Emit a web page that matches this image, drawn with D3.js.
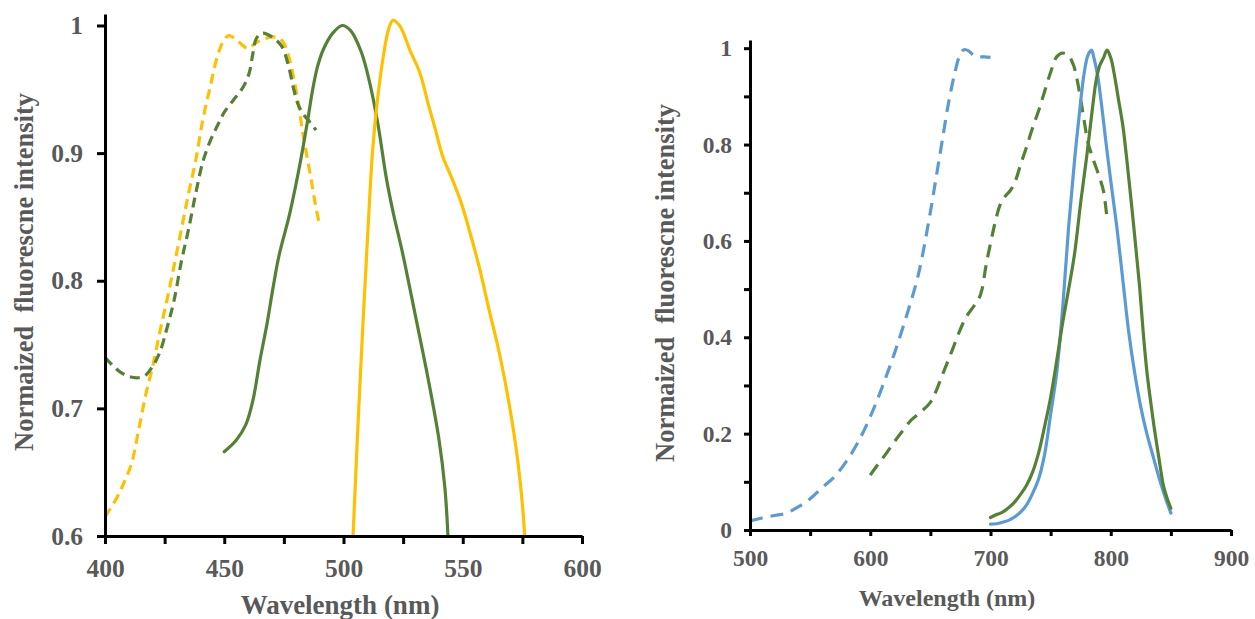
<!DOCTYPE html>
<html>
<head>
<meta charset="utf-8">
<script src="https://cdn.jsdelivr.net/npm/d3@7"></script>
<style>
  body { margin: 0; background: #fff; }
  svg text { font-family: "Liberation Serif", "Times New Roman", serif; font-weight: bold; fill: #595959; }
</style>
</head>
<body>
<div id="chart"></div>
<script>
// Données : [longueur d'onde (nm), intensité normalisée]
// Graphique de gauche
const yellowExcitation = [[400,.615],[405,.63],[408,.642],[411,.656],[414,.682],[417,.71],[420,.733],[423,.76],[426,.785],[429,.812],[432,.84],[435,.868],[438,.894],[441,.926],[444,.951],[447,.975],[450,.989],[452,.992],[455,.989],[458,.984],[460,.982],[463,.986],[466,.989],[470,.991],[473,.99],[475,.986],[477,.976],[479,.96],[481,.94],[483,.915],[486,.884],[488,.862],[490,.843]];
const greenExcitation = [[400,.74],[403,.734],[406,.729],[410,.725],[414,.724],[417,.726],[420,.733],[423,.744],[426,.763],[429,.785],[432,.815],[435,.84],[438,.868],[441,.893],[444,.909],[447,.921],[450,.932],[454,.942],[458,.952],[460.5,.963],[462,.978],[463.5,.99],[466,.994],[470,.991],[474,.984],[477,.968],[479,.951],[481,.938],[483,.931],[486,.924],[488.5,.918]];
const greenEmission = [[450,.666],[455,.675],[459,.687],[462,.706],[465,.738],[468,.767],[470.5,.795],[473,.82],[477.5,.853],[482,.894],[485,.926],[487,.949],[489,.967],[491.5,.981],[495.5,.994],[499.5,1.0],[503,.996],[507.5,.979],[511,.955],[514.5,.922],[518,.88],[521,.852],[524.5,.824],[530,.774],[535.5,.723],[540,.676],[542.5,.638],[543.8,.6]];
const yellowEmission = [[504,.6],[506,.684],[508.2,.768],[510.2,.838],[512.2,.902],[514.2,.941],[516.8,.977],[518.9,.997],[520.7,1.004],[523.5,1.0],[528,.98],[532,.963],[535.6,.938],[538.6,.918],[541.5,.898],[545.5,.88],[549.2,.862],[552.7,.84],[557,.81],[561.2,.776],[565.5,.742],[569.5,.703],[573,.66],[575,.625],[576,.6]];

// Graphique de droite
const blueExcitation = [[500,.019],[510,.025],[520,.03],[530,.035],[540,.048],[550,.065],[560,.088],[570,.11],[580,.142],[590,.183],[600,.235],[610,.297],[620,.366],[630,.443],[640,.53],[650,.66],[655,.735],[660,.81],[665,.885],[670,.945],[674,.982],[678,.997],[682,.994],[686,.985],[690,.982],[695,.982],[700,.981]];
const greenExcitation2 = [[600,.114],[606,.135],[613,.158],[620,.183],[627,.206],[634,.228],[642,.245],[650,.265],[655,.29],[660,.322],[665,.353],[670,.385],[675,.417],[680,.443],[686,.464],[690,.478],[693,.5],[696,.545],[700,.595],[704,.64],[708,.675],[712,.692],[716,.703],[720,.72],[725,.758],[730,.795],[735,.835],[740,.87],[745,.91],[750,.95],[755,.982],[760,.99],[765,.984],[769,.965],[772,.935],[775,.893],[778,.848],[781,.805],[785,.772],[790,.737],[794,.703],[797,.643]];
const blueEmission = [[700,.012],[705,.013],[710,.016],[715,.02],[720,.027],[725,.037],[730,.052],[735,.076],[740,.106],[745,.157],[750,.24],[755,.325],[760,.46],[765,.63],[770,.77],[775,.89],[778,.95],[781,.985],[784,.996],[786,.98],[789,.945],[792,.89],[796,.805],[800,.725],[805,.63],[810,.52],[815,.41],[820,.325],[825,.255],[830,.2],[835,.155],[840,.11],[845,.07],[850,.035]];
const greenEmission2 = [[700,.026],[705,.032],[710,.037],[715,.046],[720,.058],[725,.074],[730,.093],[735,.12],[740,.16],[745,.215],[750,.275],[755,.35],[760,.43],[765,.5],[770,.575],[775,.68],[780,.775],[785,.88],[788,.935],[791,.965],[794,.98],[797,.996],[800,.98],[803,.945],[806,.9],[810,.84],[815,.73],[820,.608],[824,.505],[827,.41],[830,.33],[833,.27],[836,.215],[840,.15],[844,.09],[847,.065],[850,.045]];

// Graduations
const leftXTicks = [400,425,450,475,500,525,550,575,600];
const leftYTicks = [0.6,0.7,0.8,0.9,1];
const rightXTicks = [500,550,600,650,700,750,800,850,900];
const rightYTicks = [0,0.1,0.2,0.3,0.4,0.5,0.6,0.7,0.8,0.9,1];

const yTitle = "Normaized\u00a0\u00a0fluorescne intensity";
const xTitle = "Wavelength (nm)";

const YELLOW = "#FFC000", GREEN = "#548235", BLUE = "#5B9BD5";

const svg = d3.select("#chart").append("svg")
  .attr("width", 1255)
  .attr("height", 619);

function drawPanel(cfg) {
  const x = d3.scaleLinear().domain(cfg.xDomain).range(cfg.xRange);
  const y = d3.scaleLinear().domain(cfg.yDomain).range(cfg.yRange);
  const g = svg.append("g");

  // Courbes
  const line = d3.line()
    .x(d => x(d[0]))
    .y(d => y(d[1]))
    .curve(d3.curveCatmullRom.alpha(0.5));

  cfg.series.forEach(s => {
    g.append("path")
      .datum(s.data)
      .attr("fill", "none")
      .attr("stroke", s.color)
      .attr("stroke-width", 3.2)
      .attr("stroke-linecap", s.dashed ? "butt" : "round")
      .attr("stroke-dasharray", s.dashed ? cfg.dash : null)
      .attr("d", line);
  });

  // Axe X
  const xAxis = g.append("g")
    .attr("transform", `translate(0,${cfg.yRange[0]})`)
    .call(d3.axisBottom(x)
      .tickValues(cfg.xTicks)
      .tickSize(cfg.tickLen)
      .tickSizeOuter(0)
      .tickPadding(cfg.xPad)
      .tickFormat(d => d % cfg.xLabelStep === 0 ? d : ""));

  // Axe Y
  const yAxis = g.append("g")
    .attr("transform", `translate(${cfg.xRange[0]},0)`)
    .call(d3.axisLeft(y)
      .tickValues(cfg.yTicks)
      .tickSize(cfg.tickLen)
      .tickSizeOuter(0)
      .tickPadding(cfg.yPad)
      .tickFormat(d => Math.round(d * 10) % cfg.yLabelStep === 0 ? d3.format("")(+d.toFixed(1)) : ""));

  [xAxis, yAxis].forEach(a => {
    a.select(".domain").attr("stroke", "#000").attr("stroke-width", 3);
    a.selectAll(".tick line").attr("stroke", "#000").attr("stroke-width", 3);
    a.selectAll(".tick text")
      .style("font-size", cfg.tickFont + "px")
      .attr("fill", "#595959");
  });

  // Titres des axes
  g.append("text")
    .attr("x", cfg.xTitlePos[0])
    .attr("y", cfg.xTitlePos[1])
    .attr("text-anchor", "middle")
    .style("font-size", cfg.xTitleFont + "px")
    .text(xTitle);

  g.append("text")
    .attr("transform", `translate(${cfg.yTitlePos[0]},${cfg.yTitlePos[1]}) rotate(-90)`)
    .attr("text-anchor", "middle")
    .style("font-size", cfg.yTitleFont + "px")
    .text(yTitle);
}

drawPanel({
  xDomain: [400, 600], xRange: [105, 582],
  yDomain: [0.6, 1.009], yRange: [536, 14],
  xTicks: leftXTicks, yTicks: leftYTicks,
  xLabelStep: 50, yLabelStep: 1,
  tickLen: 8, xPad: 15, yPad: 14, tickFont: 25.5,
  dash: "10,6",
  xTitlePos: [340, 614], xTitleFont: 27,
  yTitlePos: [33, 272], yTitleFont: 26.5,
  series: [
    { data: yellowExcitation, color: YELLOW, dashed: true },
    { data: greenExcitation, color: GREEN, dashed: true },
    { data: greenEmission, color: GREEN, dashed: false },
    { data: yellowEmission, color: YELLOW, dashed: false }
  ]
});

drawPanel({
  xDomain: [500, 900], xRange: [750, 1231],
  yDomain: [0, 1.017], yRange: [530, 40],
  xTicks: rightXTicks, yTicks: rightYTicks,
  xLabelStep: 100, yLabelStep: 2,
  tickLen: 6, xPad: 13, yPad: 12, tickFont: 23.5,
  dash: "13,8",
  xTitlePos: [947, 606], xTitleFont: 24,
  yTitlePos: [674, 283], yTitleFont: 26.5,
  series: [
    { data: blueExcitation, color: BLUE, dashed: true },
    { data: greenExcitation2, color: GREEN, dashed: true },
    { data: blueEmission, color: BLUE, dashed: false },
    { data: greenEmission2, color: GREEN, dashed: false }
  ]
});
</script>
</body>
</html>
